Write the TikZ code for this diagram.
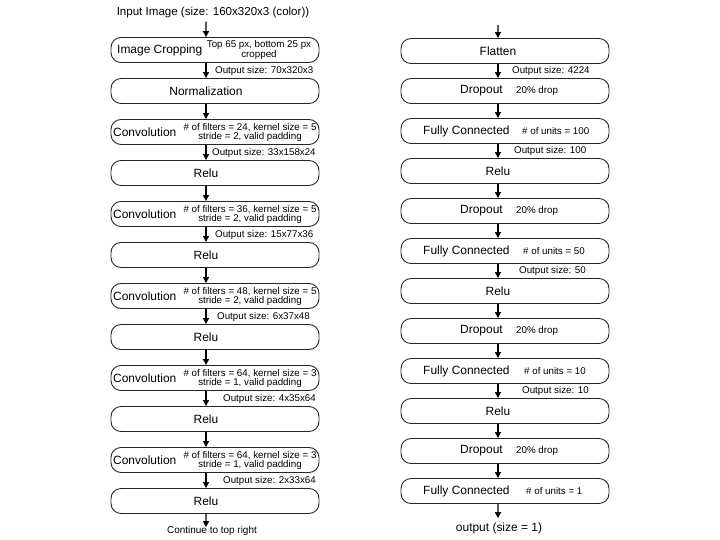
\documentclass[tikz,border=0pt]{standalone}
\usepackage{fontspec}
\setmainfont{Liberation Sans}
\usetikzlibrary{arrows.meta}
\begin{document}
\begin{tikzpicture}[x=1bp,y=-1bp,
  blk/.style={draw=black!85, line width=0.9bp, rounded corners=10bp,
    minimum width=208bp, minimum height=25bp, inner sep=0pt},
  lbl/.style={inner sep=0pt, font=\fontsize{12}{14}\selectfont},
  note/.style={inner sep=0pt, align=center, font=\fontsize{9.8}{9}\selectfont},
  outl/.style={inner sep=0pt, anchor=west, font=\fontsize{9.8}{11}\selectfont},
  arr/.style={-{Triangle[length=6bp,width=6bp]}, line width=1.3bp},
  lsh/.style={xshift=-9bp},
  rsh/.style={xshift=-7bp}]
\useasboundingbox (0,0) rectangle (720,540);

% ---------------- left column: feature extractor ----------------
\node[lbl, font=\fontsize{11.6}{14}\selectfont] (input) at (213,13) {Input Image (size: 160x320x3 (color))};

\node[blk] (crop) at (215,50) {};
\node[lbl, anchor=west] (cropt) at (117,50) {Image Cropping};
\node[note] (cropn) at (259,50) {Top 65 px, bottom 25 px\\cropped};

\node[blk] (norm) at (215,91) {};
\node[lbl] (normt) at (206,91) {Normalization};

\node[blk] (conva) at (215,132) {};
\node[lbl, anchor=west] (convat) at (113,132) {Convolution};
\node[note] (conva n) at (250,132) {\# of filters = 24, kernel size = 5\\stride = 2, valid padding};

\node[blk] (relua) at (215,173) {};
\node[lbl] (reluat) at (206,173) {Relu};

\node[blk] (convb) at (215,214) {};
\node[lbl, anchor=west] (convbt) at (113,214) {Convolution};
\node[note] (convb n) at (250,214) {\# of filters = 36, kernel size = 5\\stride = 2, valid padding};

\node[blk] (relub) at (215,255) {};
\node[lbl] (relubt) at (206,255) {Relu};

\node[blk] (convc) at (215,296) {};
\node[lbl, anchor=west] (convct) at (113,296) {Convolution};
\node[note] (convc n) at (250,296) {\# of filters = 48, kernel size = 5\\stride = 2, valid padding};

\node[blk] (reluc) at (215,337) {};
\node[lbl] (reluct) at (206,337) {Relu};

\node[blk] (convd) at (215,378) {};
\node[lbl, anchor=west] (convdt) at (113,378) {Convolution};
\node[note] (convd n) at (250,378) {\# of filters = 64, kernel size = 3\\stride = 1, valid padding};

\node[blk] (relud) at (215,419) {};
\node[lbl] (reludt) at (206,419) {Relu};

\node[blk] (conve) at (215,460) {};
\node[lbl, anchor=west] (convet) at (113,460) {Convolution};
\node[note] (conve n) at (250,460) {\# of filters = 64, kernel size = 3\\stride = 1, valid padding};

\node[blk] (relue) at (215,501) {};
\node[lbl] (reluet) at (206,501) {Relu};

\node[inner sep=0pt, font=\fontsize{10}{12}\selectfont] (cont) at (212,531) {Continue to top right};

% left connectors
\draw[arr] ([rsh]input.south) ++(0,3) -- ([lsh]crop.north);
\draw[arr] ([lsh]crop.south) -- ([lsh]norm.north);
\draw[arr] ([lsh]norm.south) -- ([lsh]conva.north);
\draw[arr] ([lsh]conva.south) -- ([lsh]relua.north);
\draw[arr] ([lsh]relua.south) -- ([lsh]convb.north);
\draw[arr] ([lsh]convb.south) -- ([lsh]relub.north);
\draw[arr] ([lsh]relub.south) -- ([lsh]convc.north);
\draw[arr] ([lsh]convc.south) -- ([lsh]reluc.north);
\draw[arr] ([lsh]reluc.south) -- ([lsh]convd.north);
\draw[arr] ([lsh]convd.south) -- ([lsh]relud.north);
\draw[arr] ([lsh]relud.south) -- ([lsh]conve.north);
\draw[arr] ([lsh]conve.south) -- ([lsh]relue.north);
\draw[arr] ([lsh]relue.south) -- ([xshift=-6bp,yshift=-1bp]cont.north);

% left size annotations
\node[outl] (oa) at (215,70.5) {Output size: 70x320x3};
\node[outl] (ob) at (212,152.5) {Output size: 33x158x24};
\node[outl] (oc) at (215,234.5) {Output size: 15x77x36};
\node[outl] (od) at (217,316.5) {Output size: 6x37x48};
\node[outl] (oe) at (223,398.5) {Output size: 4x35x64};
\node[outl] (of) at (223,480.5) {Output size: 2x33x64};

% ---------------- right column: classifier ----------------
\coordinate (top) at (498,25);

\node[blk] (flat) at (505,51) {};
\node[lbl] (flatt) at (498,51) {Flatten};

\node[blk] (dropa) at (505,91) {};
\node[lbl, anchor=west] (dropat) at (460,91) {Dropout};
\node[note, anchor=west] (dropan) at (516,91) {20\% drop};

\node[blk] (fca) at (505,131) {};
\node[lbl, anchor=west] (fcat) at (423,131) {Fully Connected};
\node[note, anchor=west] (fcan) at (522,131) {\# of units = 100};

\node[blk] (rela) at (505,171) {};
\node[lbl] (relat) at (498,171) {Relu};

\node[blk] (dropb) at (505,211) {};
\node[lbl, anchor=west] (dropbt) at (460,211) {Dropout};
\node[note, anchor=west] (dropbn) at (516,211) {20\% drop};

\node[blk] (fcb) at (505,251) {};
\node[lbl, anchor=west] (fcbt) at (423,251) {Fully Connected};
\node[note, anchor=west] (fcbn) at (523,251) {\# of units = 50};

\node[blk] (relb) at (505,291) {};
\node[lbl] (relbt) at (498,291) {Relu};

\node[blk] (dropc) at (505,331) {};
\node[lbl, anchor=west] (dropct) at (460,331) {Dropout};
\node[note, anchor=west] (dropcn) at (516,331) {20\% drop};

\node[blk] (fcc) at (505,371) {};
\node[lbl, anchor=west] (fcct) at (423,371) {Fully Connected};
\node[note, anchor=west] (fccn) at (524,371) {\# of units = 10};

\node[blk] (relc) at (505,411) {};
\node[lbl] (relct) at (498,411) {Relu};

\node[blk] (dropd) at (505,451) {};
\node[lbl, anchor=west] (dropdt) at (460,451) {Dropout};
\node[note, anchor=west] (dropdn) at (516,451) {20\% drop};

\node[blk] (fcd) at (505,491) {};
\node[lbl, anchor=west] (fcdt) at (423,491) {Fully Connected};
\node[note, anchor=west] (fcdn) at (526,491) {\# of units = 1};

\node[lbl] (out) at (499,528) {output (size = 1)};

% right connectors
\draw[arr] (top) -- ([rsh]flat.north);
\draw[arr] ([rsh]flat.south) -- ([rsh]dropa.north);
\draw[arr] ([rsh]dropa.south) -- ([rsh]fca.north);
\draw[arr] ([rsh]fca.south) -- ([rsh]rela.north);
\draw[arr] ([rsh]rela.south) -- ([rsh]dropb.north);
\draw[arr] ([rsh]dropb.south) -- ([rsh]fcb.north);
\draw[arr] ([rsh]fcb.south) -- ([rsh]relb.north);
\draw[arr] ([rsh]relb.south) -- ([rsh]dropc.north);
\draw[arr] ([rsh]dropc.south) -- ([rsh]fcc.north);
\draw[arr] ([rsh]fcc.south) -- ([rsh]relc.north);
\draw[arr] ([rsh]relc.south) -- ([rsh]dropd.north);
\draw[arr] ([rsh]dropd.south) -- ([rsh]fcd.north);
\draw[arr] ([rsh]fcd.south) -- ([xshift=-1bp,yshift=4bp]out.north);

% right size annotations
\node[outl] (ra) at (512,71) {Output size: 4224};
\node[outl] (rb) at (514,151) {Output size: 100};
\node[outl] (rc) at (519,270.5) {Output size: 50};
\node[outl] (rd) at (522,390.5) {Output size: 10};
\end{tikzpicture}
\end{document}
